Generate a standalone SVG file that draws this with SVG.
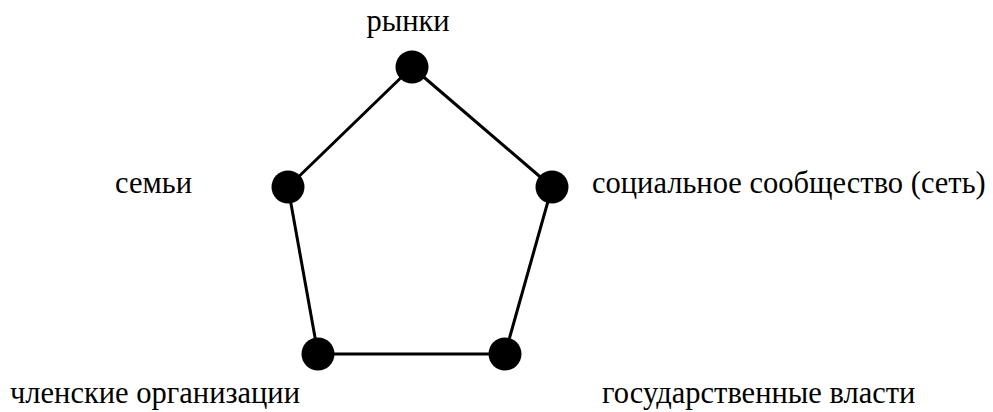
<svg xmlns="http://www.w3.org/2000/svg" width="993" height="412" viewBox="0 0 993 412" xml:lang="ru">
<rect width="993" height="412" fill="#fff"/>
<g id="connectors" stroke="#000" stroke-width="3" fill="none">
<line x1="412" y1="67" x2="552" y2="187"/>
<line x1="552" y1="187" x2="505" y2="354"/>
<line x1="505" y1="354" x2="318" y2="354"/>
<line x1="318" y1="354" x2="288" y2="187"/>
<line x1="288" y1="187" x2="412" y2="67"/>
</g>
<g id="node-markets"><circle fill="#000" cx="412" cy="67" r="16.5"/><text font-family="Times New Roman, Liberation Serif, serif" font-size="30.5" x="408" y="31" text-anchor="middle">рынки</text></g>
<g id="node-families"><circle fill="#000" cx="288" cy="187" r="16.5"/><text font-family="Times New Roman, Liberation Serif, serif" font-size="30.5" x="115" y="193">семьи</text></g>
<g id="node-community"><circle fill="#000" cx="552" cy="187" r="16.5"/><text font-family="Times New Roman, Liberation Serif, serif" font-size="30.5" x="592" y="193">социальное сообщество (сеть)</text></g>
<g id="node-members"><circle fill="#000" cx="318" cy="354" r="16.5"/><text font-family="Times New Roman, Liberation Serif, serif" font-size="30.5" x="10" y="403">членские организации</text></g>
<g id="node-state"><circle fill="#000" cx="505" cy="354" r="16.5"/><text font-family="Times New Roman, Liberation Serif, serif" font-size="30.5" x="602" y="403">государственные власти</text></g>
</svg>
